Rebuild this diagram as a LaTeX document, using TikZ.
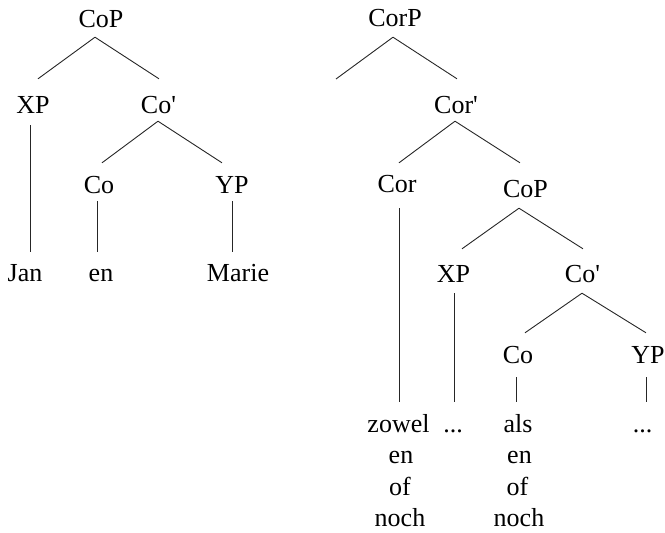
\documentclass[tikz,border=0pt]{standalone}
\usepackage{fontspec}
\setmainfont{Liberation Serif}
\newfontfamily\treefont{Liberation Serif}
\begin{document}
\begin{tikzpicture}[x=1pt,y=-1pt,
  lab/.style={inner sep=0pt,text height=17pt,text depth=6pt,anchor=base,font=\treefont\fontsize{26}{30}\selectfont},
  edge/.style={draw=black!85,line width=0.9pt}]
\useasboundingbox (0,0) rectangle (665,533);
% left tree
\node[lab] (CoPa) at (101,27) {CoP};
\node[lab] (XPa) at (33,113) {XP};
\node[lab] (Cobara) at (158.5,113) {Co\textquotesingle};
\node[lab] (Coa) at (99,193) {Co};
\node[lab] (YPa) at (232,193) {YP};
\node[lab] (Jan) at (25,281) {Jan};
\node[lab] (ena) at (101,281) {en};
\node[lab] (Marie) at (238,281) {Marie};
\draw[edge] ([xshift=-6pt,yshift=-4pt]CoPa.south) -- ([xshift=5pt,yshift=17pt]XPa.north);
\draw[edge] ([xshift=-6pt,yshift=-4pt]CoPa.south) -- ([xshift=0.5pt,yshift=17pt]Cobara.north);
\draw[edge] ([xshift=-3pt,yshift=-6pt]XPa.south) -- ([xshift=-3pt,yshift=12pt]XPa.south |- Jan.north);
\draw[edge] ([xshift=-0.5pt,yshift=-2pt]Cobara.south) -- ([xshift=3pt,yshift=13pt]Coa.north);
\draw[edge] ([xshift=-0.5pt,yshift=-2pt]Cobara.south) -- ([xshift=-10pt,yshift=13pt]YPa.north);
\draw[edge] ([xshift=-2pt,yshift=-2pt]Coa.south) -- ([xshift=-2pt,yshift=12pt]Coa.south |- ena.north);
\draw[edge] ([yshift=-2pt]YPa.south) -- ([yshift=12pt]YPa.south |- Marie.north);
% right tree
\node[lab] (CorP) at (395,26) {CorP};
\coordinate (spec) at (336,79);
\node[lab] (Corbar) at (456,113) {Cor\textquotesingle};
\node[lab] (Cor) at (397,192) {Cor};
\node[lab] (CoPb) at (525.5,197) {CoP};
\node[lab] (XPb) at (453.5,282) {XP};
\node[lab] (Cobarb) at (582.5,282) {Co\textquotesingle};
\node[lab] (Cob) at (518,363) {Co};
\node[lab] (YPb) at (648,363) {YP};
\node[lab] (zowel) at (398.5,432) {zowel};
\node[lab] (enb) at (401,463.5) {en};
\node[lab] (ofb) at (400,495) {of};
\node[lab] (nochb) at (400,526.5) {noch};
\node[lab] (dotsa) at (453,432) {...};
\node[lab] (als) at (518,432) {als};
\node[lab] (enc) at (519.5,463.5) {en};
\node[lab] (ofc) at (517.5,495) {of};
\node[lab] (nochc) at (519,526.5) {noch};
\node[lab] (dotsb) at (642.5,432) {...};
\draw[edge] ([xshift=-2pt,yshift=-5pt]CorP.south) -- (spec);
\draw[edge] ([xshift=-2pt,yshift=-5pt]CorP.south) -- ([xshift=1pt,yshift=17pt]Corbar.north);
\draw[edge] ([xshift=-1pt,yshift=-2pt]Corbar.south) -- ([xshift=2pt,yshift=12pt]Cor.north);
\draw[edge] ([xshift=-1pt,yshift=-2pt]Corbar.south) -- ([xshift=-5.5pt,yshift=17pt]CoPb.north);
\draw[edge] ([xshift=2pt,yshift=-10pt]Cor.south) -- ([xshift=2pt,yshift=13pt]Cor.south |- zowel.north);
\draw[edge] ([xshift=-6.5pt,yshift=-5pt]CoPb.south) -- ([xshift=8.5pt,yshift=16pt]XPb.north);
\draw[edge] ([xshift=-6.5pt,yshift=-5pt]CoPb.south) -- ([xshift=0.5pt,yshift=16pt]Cobarb.north);
\draw[edge] ([xshift=0.5pt,yshift=-5pt]XPb.south) -- ([xshift=0.5pt,yshift=13pt]XPb.south |- dotsa.north);
\draw[edge] ([xshift=-0.5pt,yshift=-5pt]Cobarb.south) -- ([xshift=7pt,yshift=13pt]Cob.north);
\draw[edge] ([xshift=-0.5pt,yshift=-5pt]Cobarb.south) -- ([xshift=-2pt,yshift=13pt]YPb.north);
\draw[edge] ([xshift=-2pt,yshift=-8pt]Cob.south) -- ([xshift=-2pt,yshift=13pt]Cob.south |- als.north);
\draw[edge] ([xshift=-2pt,yshift=-8pt]YPb.south) -- ([xshift=-2pt,yshift=13pt]YPb.south |- dotsb.north);
\end{tikzpicture}
\end{document}
